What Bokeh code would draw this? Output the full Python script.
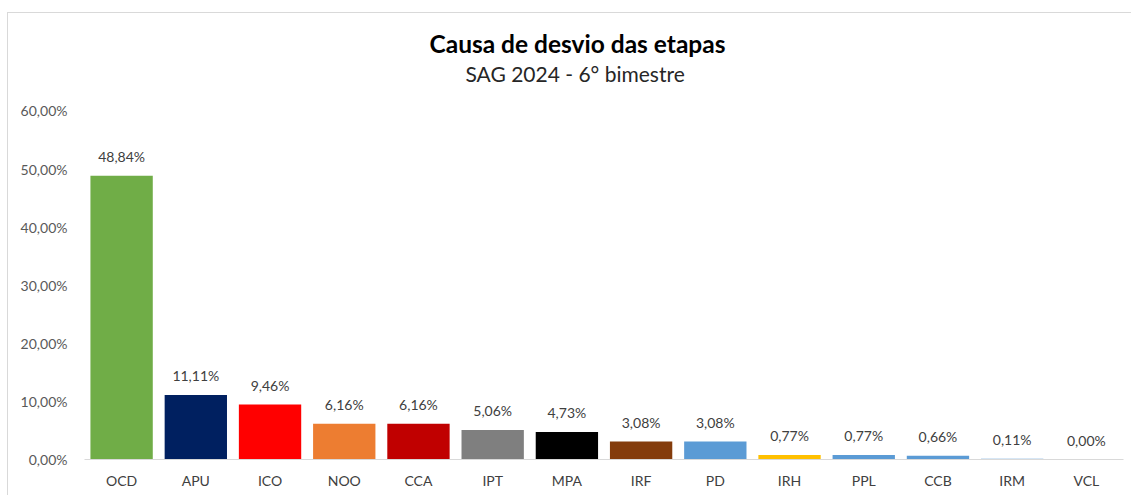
from bokeh.plotting import figure
from bokeh.models import ColumnDataSource, Range1d, FactorRange, Title, LabelSet, FixedTicker
from bokeh.core.properties import value
from bokeh.embed import file_html
from bokeh.resources import INLINE

categories = ["OCD", "APU", "ICO", "NOO", "CCA", "IPT", "MPA", "IRF", "PD", "IRH", "PPL", "CCB", "IRM", "VCL"]
values = [48.84, 11.11, 9.46, 6.16, 6.16, 5.06, 4.73, 3.08, 3.08, 0.77, 0.77, 0.66, 0.11, 0.00]
colors = ["#70ad47", "#002060", "#ff0000", "#ed7d31", "#c00000", "#7f7f7f", "#000000",
          "#843c0c", "#5b9bd5", "#ffc000", "#5b9bd5", "#5b9bd5", "#5b9bd5", "#5b9bd5"]
value_labels = ["48,84%", "11,11%", "9,46%", "6,16%", "6,16%", "5,06%", "4,73%",
                "3,08%", "3,08%", "0,77%", "0,77%", "0,66%", "0,11%", "0,00%"]
y_ticks = [0, 10, 20, 30, 40, 50, 60]
y_tick_labels = ["0,00%", "10,00%", "20,00%", "30,00%", "40,00%", "50,00%", "60,00%"]

FONT = "Lato"

src = ColumnDataSource(dict(cat=categories, val=values, color=colors, lbl=value_labels))

p = figure(x_range=FactorRange(*categories, range_padding=0), y_range=Range1d(0, 64.2),
           width=1131, height=495, output_backend="svg", toolbar_location=None,
           title=None, min_border_left=84, min_border_right=8, min_border_bottom=36,
           min_border_top=86)

p.add_layout(Title(text="SAG 2024 - 6° bimestre", align="left", offset=381, text_font=FONT,
                   text_font_size="21px", text_font_style="normal", text_color="#262626",
                   standoff=2), "above")
p.add_layout(Title(text="Causa de desvio das etapas", align="left", offset=345, text_font=FONT,
                   text_font_size="24.5px", text_font_style="bold", text_color="#000000",
                   standoff=0), "above")

p.vbar(x="cat", top="val", width=0.84, source=src, fill_color="color", line_color=None)

labels = LabelSet(x="cat", y="val", text="lbl", source=src, text_align="center",
                  text_baseline="bottom", y_offset=11, text_font=value(FONT),
                  text_font_size=value("14px"), text_color=value("#404040"))
p.add_layout(labels)

p.xgrid.grid_line_color = None
p.ygrid.grid_line_color = None
p.outline_line_color = None
p.border_fill_color = None
p.background_fill_color = None

p.yaxis.ticker = FixedTicker(ticks=y_ticks)
p.yaxis.major_label_overrides = {t: l for t, l in zip(y_ticks, y_tick_labels)}
p.yaxis.axis_line_color = None
p.yaxis.major_tick_line_color = None
p.yaxis.minor_tick_line_color = None
p.yaxis.major_label_text_font = FONT
p.yaxis.major_label_text_font_size = "14px"
p.yaxis.major_label_text_color = "#595959"
p.yaxis.major_label_standoff = 11

p.xaxis.axis_line_color = "#d9d9d9"
p.xaxis.major_tick_line_color = None
p.xaxis.minor_tick_line_color = None
p.xaxis.major_label_text_font = FONT
p.xaxis.major_label_text_font_size = "14px"
p.xaxis.major_label_text_color = "#404040"
p.xaxis.major_label_standoff = 6

p.styles = {
    "background": ("linear-gradient(#d9d9d9, #d9d9d9) 7px 12px / 1px 100% no-repeat, "
                   "linear-gradient(#d9d9d9, #d9d9d9) 7px 12px / 100% 1px no-repeat, #ffffff"),
}

open("out.html", "w").write(file_html(p, INLINE))
